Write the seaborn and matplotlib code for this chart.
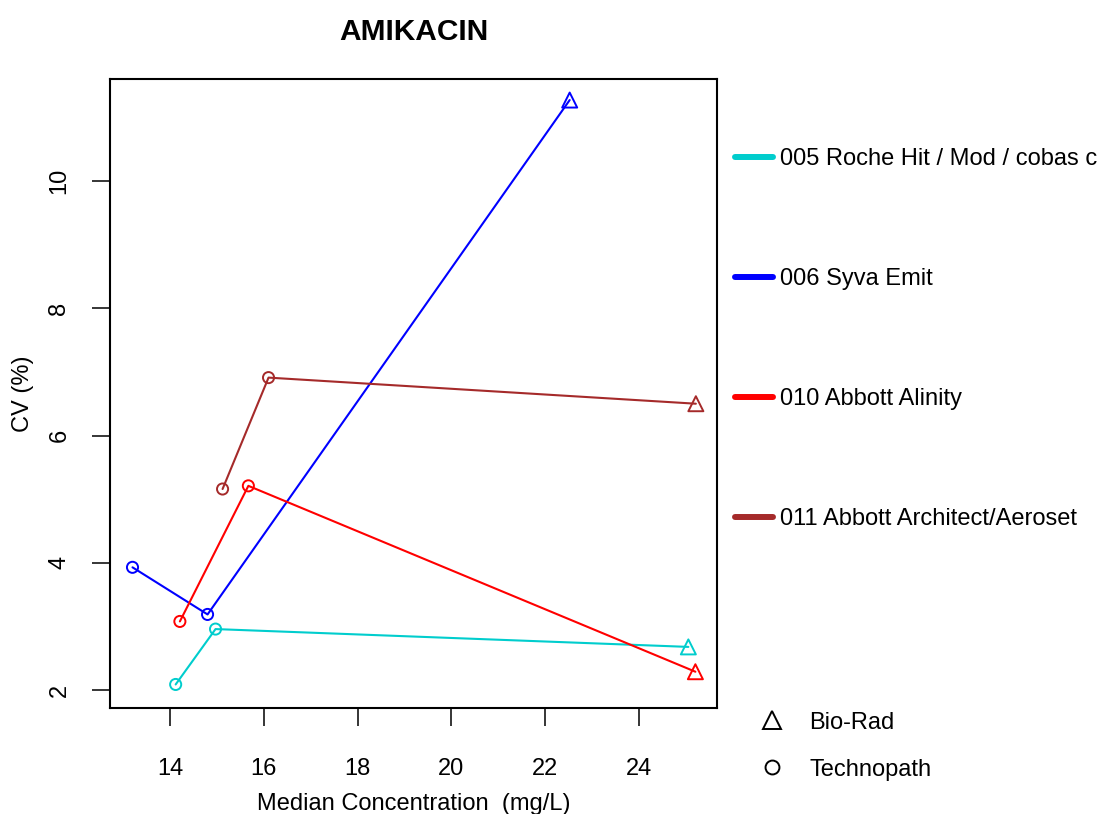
import matplotlib
matplotlib.use("Agg")
import pandas as pd
import seaborn as sns
from matplotlib import pyplot as plt
from matplotlib.lines import Line2D

# data
methods = ["005 Roche Hit / Mod / cobas c", "006 Syva Emit",
           "010 Abbott Alinity", "011 Abbott Architect/Aeroset"]
method_colors = ["#00CDCD", "#0000FF", "#FF0000", "#A52A2A"]
materials = ["Technopath", "Technopath", "Bio-Rad"]

conc_005 = [14.12, 14.97, 25.05]
cv_005 = [2.09, 2.96, 2.68]
conc_006 = [13.20, 14.80, 22.52]
cv_006 = [3.93, 3.19, 11.27]
conc_010 = [14.21, 15.67, 25.20]
cv_010 = [3.08, 5.21, 2.29]
conc_011 = [15.12, 16.10, 25.21]
cv_011 = [5.16, 6.91, 6.50]

x_ticks = [14, 16, 18, 20, 22, 24]
y_ticks = [2, 4, 6, 8, 10]

rows = []
for m, xs, ys in zip(methods, [conc_005, conc_006, conc_010, conc_011],
                     [cv_005, cv_006, cv_010, cv_011]):
    for x, y, mat in zip(xs, ys, materials):
        rows.append({"method": m, "conc": x, "cv": y, "material": mat})
df = pd.DataFrame(rows)
palette = dict(zip(methods, method_colors))

sns.set_style("ticks")
plt.rcParams["font.family"] = ["Liberation Sans", "DejaVu Sans"]
plt.rcParams["text.color"] = "black"
plt.rcParams["axes.labelcolor"] = "black"

fig = plt.figure(figsize=(11.01, 8.14), dpi=100)
ax = fig.add_axes([0.0999, 0.1302, 0.5513, 0.7727])

sns.lineplot(data=df, x="conc", y="cv", hue="method", palette=palette,
             estimator=None, sort=False, lw=1.5, legend=False, ax=ax)

# hollow markers, one call per material
for mat, mk, size in [("Technopath", "o", 64), ("Bio-Rad", "^", 117)]:
    sns.scatterplot(data=df[df["material"] == mat], x="conc", y="cv",
                    hue="method", palette=palette, marker=mk, s=size,
                    legend=False, ax=ax, zorder=3)
    pts = ax.collections[-1]
    fc = pts.get_facecolors()
    pts.set_edgecolors(fc)
    pts.set_facecolors("none")
    pts.set_linewidths(1.4)

ax.set_xlim(12.72, 25.66)
ax.set_ylim(1.72, 11.6)
ax.set_xticks(x_ticks)
ax.set_yticks(y_ticks)
ax.tick_params(axis="both", length=13, width=1.1, color="black",
               labelsize=17, labelcolor="black")
ax.tick_params(axis="x", pad=23)
ax.tick_params(axis="y", pad=15.5)
for lab in ax.get_yticklabels():
    lab.set_rotation(90)
    lab.set_va("center")

for sp in ax.spines.values():
    sp.set_visible(True)
    sp.set_color("black")
    sp.set_linewidth(1.5)

ax.set_xlabel("Median Concentration  (mg/L)", fontsize=17, labelpad=9.5)
ax.set_ylabel("CV (%)", fontsize=17, labelpad=10.5)
ax.set_title("AMIKACIN", fontsize=21.5, fontweight="bold", pad=28)

# method legend
line_handles = [Line2D([], [], color=c, lw=4.3, solid_capstyle="round")
                for c in method_colors]
leg1 = ax.legend(line_handles, methods, loc="center left",
                 bbox_to_anchor=(0.668, 0.5832), bbox_transform=fig.transFigure,
                 frameon=False, fontsize=17, labelspacing=4.15,
                 handlelength=1.61, handletextpad=0.28,
                 borderpad=0, borderaxespad=0)
ax.add_artist(leg1)

# material legend
mat_handles = [
    Line2D([], [], ls="none", marker="^", ms=13, mfc="none", mec="black", mew=1.4),
    Line2D([], [], ls="none", marker="o", ms=10, mfc="none", mec="black", mew=1.4),
]
ax.legend(mat_handles, ["Bio-Rad", "Technopath"], loc="center left",
          bbox_to_anchor=(0.691, 0.0835), bbox_transform=fig.transFigure,
          frameon=False, fontsize=17, labelspacing=1.06, numpoints=1,
          handlelength=0.91, handletextpad=1.15, borderpad=0, borderaxespad=0)

fig.savefig("out.png", dpi=100)
